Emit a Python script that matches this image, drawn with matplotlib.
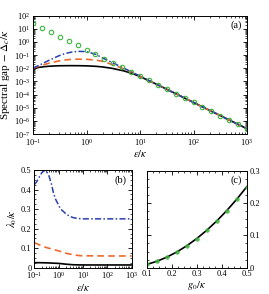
import matplotlib
matplotlib.use("Agg")
import matplotlib.pyplot as plt
from matplotlib.ticker import LogLocator, MultipleLocator, NullFormatter, FuncFormatter

plt.rcParams['font.family'] = ['Liberation Serif', 'DejaVu Serif']
plt.rcParams['mathtext.fontset'] = 'stix'
plt.rcParams['font.size'] = 6.5

# ---- panel (a) data ----
eps_green = [0.1, 0.147, 0.215, 0.316, 0.464, 0.681, 1.0, 1.47, 2.15, 3.16, 4.64, 6.81,
             10, 14.7, 21.5, 31.6, 46.4, 68.1, 100, 147, 215, 316, 464, 681, 1000]
gap_green = [25, 11.6, 5.4, 2.5, 1.16, 0.54, 0.25, 0.116, 0.054, 0.025, 0.0116, 0.0054,
             2.5e-3, 1.16e-3, 5.4e-4, 2.5e-4, 1.16e-4, 5.4e-5, 2.5e-5, 1.16e-5, 5.4e-6,
             2.5e-6, 1.16e-6, 5.4e-7, 2.5e-7]

eps_black = [0.1, 0.15, 0.2, 0.3, 0.5, 0.7, 1, 1.5, 2, 3, 5, 7, 10, 20, 50, 100, 1000]
gap_black = [0.0100, 0.0125, 0.0140, 0.0152, 0.0155, 0.0154, 0.0150, 0.0138, 0.0124,
             0.0097, 0.0062, 0.0041, 0.0023, 0.00062, 0.0001, 0.000025, 2.5e-7]

eps_orange = [0.1, 0.15, 0.2, 0.3, 0.4, 0.5, 0.7, 1, 1.5, 2, 3, 4, 5, 7, 10, 20, 100, 1000]
gap_orange = [0.0100, 0.017, 0.024, 0.035, 0.042, 0.046, 0.048, 0.047, 0.041, 0.033,
              0.019, 0.0125, 0.0088, 0.0048, 0.0024, 0.00062, 0.000025, 2.5e-7]

eps_blue = [0.1, 0.15, 0.2, 0.3, 0.4, 0.5, 0.7, 1, 1.5, 2, 3, 5, 7, 10, 100, 1000]
gap_blue = [0.0100, 0.022, 0.040, 0.085, 0.13, 0.16, 0.19, 0.18, 0.11, 0.060, 0.027,
            0.0100, 0.0051, 0.0025, 0.000025, 2.5e-7]

# ---- panel (b) data ----
eps_b_blue = [0.1, 0.125, 0.15, 0.2, 0.26, 0.32, 0.4, 0.5, 0.62, 0.75, 1.0, 1.2, 1.5,
              2, 3, 4, 6, 10, 100, 1000]
lam_blue = [0.425, 0.44, 0.458, 0.485, 0.498, 0.493, 0.47, 0.43, 0.38, 0.35, 0.32, 0.30,
            0.29, 0.275, 0.262, 0.256, 0.252, 0.25, 0.25, 0.25]
eps_b_orange = [0.1, 0.2, 0.3, 0.5, 1, 2, 4, 7, 10, 100, 1000]
lam_orange = [0.128, 0.112, 0.104, 0.096, 0.086, 0.074, 0.066, 0.062, 0.061, 0.06, 0.06]
eps_b_black = [0.1, 0.3, 1, 2, 4, 10, 1000]
lam_black = [0.026, 0.025, 0.022, 0.018, 0.015, 0.014, 0.014]

# ---- panel (c) data ----
g0 = [0.1, 0.14, 0.18, 0.22, 0.26, 0.30, 0.34, 0.38, 0.42, 0.46, 0.50]
c_line = [0.010, 0.0196, 0.0324, 0.0484, 0.0676, 0.090, 0.1156, 0.1444, 0.1764, 0.2116, 0.25]
c_points = [0.010, 0.0196, 0.0324, 0.0484, 0.0676, 0.090, 0.1156, 0.1444, 0.1764, 0.2116, 0.25]

BLACK = 'black'
ORANGE = '#ee6a2c'
BLUE = '#2a3fb0'
GREEN = '#3db43d'
DASH = (0, (4, 2.5))
DASHDOT = (0, (4, 1.5, 1, 1.5))

W, H = 269, 294
fig = plt.figure(figsize=(W / 100, H / 100), dpi=100)

def frac(l, t, r, b):
    return [l / W, 1 - b / H, (r - l) / W, (b - t) / H]

def style(ax):
    ax.tick_params(which='both', direction='in', top=True, right=True, labelsize=6, pad=2)
    ax.tick_params(which='major', length=3, width=0.6)
    ax.tick_params(which='minor', length=1.6, width=0.5)
    for s in ax.spines.values():
        s.set_linewidth(0.7)

def plain(v, p):
    return '0' if abs(v) < 1e-9 else f'{v:.1f}'

# (a)
axa = fig.add_axes(frac(33, 15.5, 247, 134))
axa.loglog(eps_black, gap_black, color=BLACK, lw=1.2)
axa.loglog(eps_orange, gap_orange, color=ORANGE, lw=1.2, ls=DASH)
axa.loglog(eps_blue, gap_blue, color=BLUE, lw=1.1, ls=DASHDOT)
axa.loglog(eps_green, gap_green, ls='none', marker='o', ms=3.2, mfc='none', mec=GREEN, mew=0.8)
axa.set_xlim(0.1, 1000)
axa.set_ylim(1e-7, 1e2)
for axis in (axa.xaxis, axa.yaxis):
    axis.set_major_locator(LogLocator(base=10, numticks=20))
    axis.set_minor_locator(LogLocator(base=10, subs=range(2, 10), numticks=20))
    axis.set_minor_formatter(NullFormatter())
style(axa)
axa.set_xlabel(r'$\varepsilon/\kappa$', fontsize=7.5, labelpad=0.5)
axa.set_ylabel(r'Spectral gap $-\ \Delta_c/\kappa$', fontsize=8)
axa.yaxis.set_label_coords(-0.1, 0.5)
axa.text(0.975, 0.92, '(a)', transform=axa.transAxes, ha='right', va='center', fontsize=7.5)

# (b)
axb = fig.add_axes(frac(34.3, 170, 131.7, 267.7))
axb.semilogx(eps_b_black, lam_black, color=BLACK, lw=1.2)
axb.semilogx(eps_b_orange, lam_orange, color=ORANGE, lw=1.2, ls=DASH)
axb.semilogx(eps_b_blue, lam_blue, color=BLUE, lw=1.1, ls=DASHDOT)
axb.set_xlim(0.1, 1000)
axb.set_ylim(0, 0.5)
axb.xaxis.set_major_locator(LogLocator(base=10, numticks=20))
axb.xaxis.set_minor_locator(LogLocator(base=10, subs=range(2, 10), numticks=20))
axb.xaxis.set_minor_formatter(NullFormatter())
axb.yaxis.set_major_locator(MultipleLocator(0.1))
axb.yaxis.set_minor_locator(MultipleLocator(0.025))
style(axb)
axb.yaxis.set_major_formatter(FuncFormatter(plain))
axb.set_xlabel(r'$\varepsilon/\kappa$', fontsize=7.5, labelpad=0.5)
axb.set_ylabel(r'$\lambda_0/\kappa$', fontsize=7.5, labelpad=1.5)
axb.text(0.95, 0.9, '(b)', transform=axb.transAxes, ha='right', va='center', fontsize=7.5)

# (c)
axc = fig.add_axes(frac(146.7, 170.7, 246.7, 267.7))
axc.plot(g0, c_line, color=BLACK, lw=1.2)
axc.plot(g0, c_points, ls='none', marker='o', ms=2.6, mfc=GREEN, mec=GREEN, mew=0.5, alpha=0.85)
axc.set_xlim(0.1, 0.5)
axc.set_ylim(0, 0.3)
axc.xaxis.set_major_locator(MultipleLocator(0.1))
axc.xaxis.set_minor_locator(MultipleLocator(0.025))
axc.yaxis.set_major_locator(MultipleLocator(0.1))
axc.yaxis.set_minor_locator(MultipleLocator(0.025))
style(axc)
axc.yaxis.tick_right()
axc.tick_params(which='both', left=True, right=True, labelleft=False, labelright=True)
axc.xaxis.set_major_formatter(FuncFormatter(plain))
axc.yaxis.set_major_formatter(FuncFormatter(plain))
axc.set_xlabel(r'$g_0/\kappa$', fontsize=7.5, labelpad=0.5)
axc.text(0.95, 0.9, '(c)', transform=axc.transAxes, ha='right', va='center', fontsize=7.5)

fig.savefig('out.png', dpi=100)
